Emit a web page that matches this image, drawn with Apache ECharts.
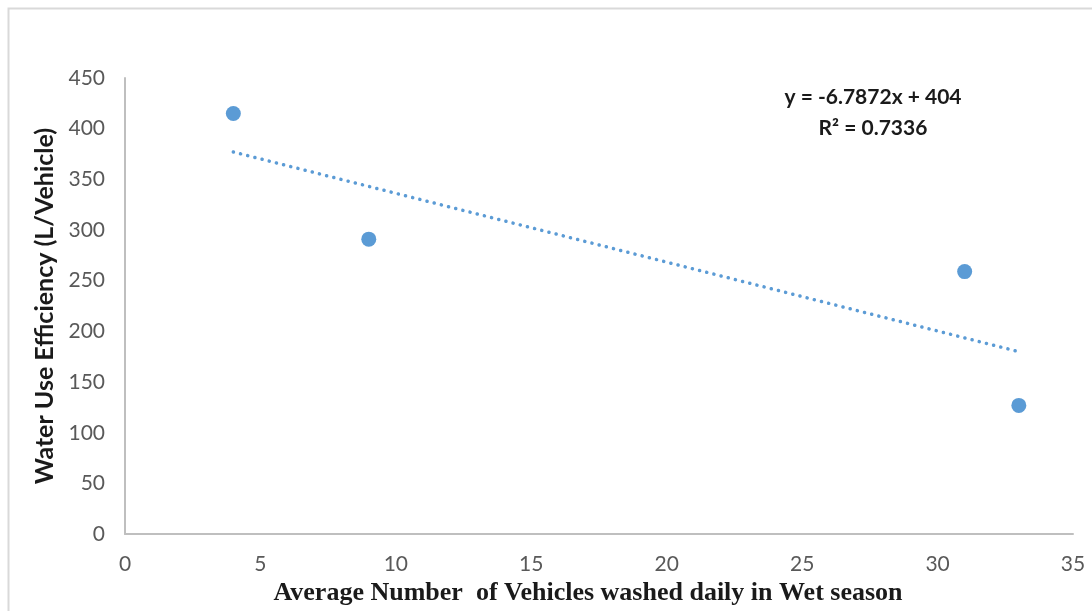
<!DOCTYPE html>
<html>
<head>
<meta charset="utf-8">
<script src="https://cdn.jsdelivr.net/npm/echarts@6/dist/echarts.min.js"></script>
<style>html,body{margin:0;padding:0;background:#fff;}#c{width:1092px;height:611px;}</style>
</head>
<body>
<div id="c"></div>
<script>
// Data
const vehiclesX = [4, 9, 31, 33];
const efficiencyY = [415, 291, 259, 127];
// Trendline endpoints (dotted linear fit)
const trendX = [4, 33];
const trendY = [377, 180];
const xTicks = [0, 5, 10, 15, 20, 25, 30, 35];
const yTicks = [0, 50, 100, 150, 200, 250, 300, 350, 400, 450];
const equationText = 'y = -6.7872x + 404';
const r2Text = 'R² = 0.7336';
const xTitle = 'Average Number  of Vehicles washed daily in Wet season';
const yTitle = 'Water Use Efficiency (L/Vehicle)';

const chart = echarts.init(document.getElementById('c'), null, {renderer: 'canvas'});
const blue = '#5B9BD5';
chart.setOption({
  backgroundColor: '#ffffff',
  animation: false,
  grid: {left: 125, right: 19, top: 78, bottom: 74, containLabel: false},
  xAxis: {
    type: 'value', min: xTicks[0], max: xTicks[xTicks.length - 1], interval: 5,
    splitLine: {show: false},
    axisTick: {show: false},
    axisLine: {show: true, lineStyle: {color: '#BFBFBF', width: 2}},
    axisLabel: {color: '#595959', fontFamily: 'Lato', fontSize: 21, margin: 20},
    name: xTitle, nameLocation: 'middle', nameGap: 31,
    nameTextStyle: {fontFamily: 'Liberation Serif', fontWeight: 'bold', fontSize: 26, color: '#1a1a1a',
      backgroundColor: '#ffffff', padding: [0, 22, 0, 0]}
  },
  yAxis: {
    type: 'value', min: yTicks[0], max: yTicks[yTicks.length - 1], interval: 50,
    splitLine: {show: false},
    axisTick: {show: false},
    axisLine: {show: true, lineStyle: {color: '#BFBFBF', width: 2}},
    axisLabel: {color: '#595959', fontFamily: 'Lato', fontSize: 21, margin: 20},
    name: yTitle, nameLocation: 'middle', nameGap: 66, nameRotate: 90,
    nameTextStyle: {fontFamily: 'Lato', fontWeight: 'bold', fontSize: 25, color: '#1a1a1a'}
  },
  series: [
    {
      type: 'line', data: trendX.map((x, i) => [x, trendY[i]]),
      symbol: 'none', silent: true,
      lineStyle: {color: blue, width: 3.5, type: [0.1, 7.3], cap: 'round'}
    },
    {
      type: 'scatter', data: vehiclesX.map((x, i) => [x, efficiencyY[i]]),
      symbolSize: 15, itemStyle: {color: blue, opacity: 1}
    }
  ],
  graphic: [
    {type: 'rect', left: 6, top: 6, silent: true,
      shape: {width: 1100, height: 620}, style: {fill: 'none', stroke: '#D9D9D9', lineWidth: 2}},
    {type: 'text', x: 873, y: 97, silent: true,
      style: {text: equationText, fontFamily: 'Lato', fontWeight: 'bold', fontSize: 21, fill: '#1a1a1a',
        textAlign: 'center', textVerticalAlign: 'middle'}},
    {type: 'text', x: 873, y: 128, silent: true,
      style: {text: r2Text, fontFamily: 'Lato', fontWeight: 'bold', fontSize: 21, fill: '#1a1a1a',
        textAlign: 'center', textVerticalAlign: 'middle'}}
  ]
});
</script>
</body>
</html>
